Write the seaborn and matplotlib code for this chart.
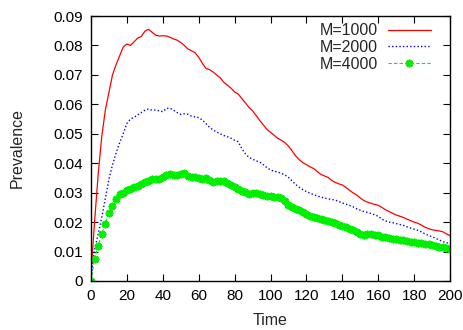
import numpy as np
import pandas as pd
import matplotlib
matplotlib.use("Agg")
import matplotlib.pyplot as plt
import seaborn as sns
from matplotlib.ticker import FuncFormatter

time = list(range(0, 201, 2))

m1000 = [0.002, 0.020, 0.036, 0.049, 0.058, 0.064, 0.070, 0.0735, 0.0765, 0.0795,
         0.0805, 0.0800, 0.0812, 0.0825, 0.0830, 0.0848, 0.0855, 0.0845, 0.0835, 0.0832,
         0.0833, 0.0832, 0.0828, 0.0822, 0.0818, 0.0810, 0.0800, 0.0788, 0.0782, 0.0775,
         0.0760, 0.0740, 0.0722, 0.0718, 0.0710, 0.0700, 0.0690, 0.0675, 0.0665, 0.0655,
         0.0642, 0.0635, 0.0620, 0.0605, 0.0590, 0.0578, 0.0562, 0.0545, 0.0530, 0.0515,
         0.0505, 0.0495, 0.0485, 0.0478, 0.0470, 0.0458, 0.0442, 0.0425, 0.0412, 0.0402,
         0.0395, 0.0388, 0.0382, 0.0372, 0.0362, 0.0357, 0.0352, 0.0342, 0.0335, 0.0330,
         0.0326, 0.0318, 0.0308, 0.0299, 0.0292, 0.0282, 0.0273, 0.0268, 0.0264, 0.0260,
         0.0257, 0.0250, 0.0242, 0.0236, 0.0230, 0.0224, 0.0220, 0.0216, 0.0210, 0.0205,
         0.0200, 0.0196, 0.0190, 0.0183, 0.0178, 0.0174, 0.0172, 0.0170, 0.0167, 0.0160,
         0.0154]

m2000 = [0.001, 0.0105, 0.016, 0.0215, 0.028, 0.0345, 0.0395, 0.0435, 0.047, 0.050,
         0.0535, 0.0550, 0.0556, 0.0564, 0.0572, 0.0580, 0.0584, 0.0580, 0.0581, 0.0578,
         0.0575, 0.0586, 0.0587, 0.0580, 0.0572, 0.0566, 0.0568, 0.0566, 0.0560, 0.0557,
         0.0555, 0.0547, 0.0535, 0.0522, 0.0513, 0.0506, 0.0500, 0.0494, 0.0490, 0.0485,
         0.0478, 0.0473, 0.0450, 0.0432, 0.0420, 0.0414, 0.0408, 0.0404, 0.0395, 0.0385,
         0.0377, 0.0373, 0.0370, 0.0366, 0.0360, 0.0352, 0.0340, 0.0328, 0.0318, 0.0310,
         0.0304, 0.0298, 0.0293, 0.0289, 0.0285, 0.0282, 0.0279, 0.0277, 0.0275, 0.0270,
         0.0265, 0.0261, 0.0257, 0.0252, 0.0245, 0.0240, 0.0236, 0.0233, 0.0229, 0.0225,
         0.0220, 0.0210, 0.0204, 0.0200, 0.0198, 0.0195, 0.0192, 0.0189, 0.0184, 0.0180,
         0.0176, 0.0172, 0.0167, 0.0160, 0.0155, 0.0150, 0.0145, 0.0139, 0.0134, 0.0130,
         0.0127]

m4000 = [0.000, 0.0075, 0.012, 0.016, 0.0195, 0.023, 0.0255, 0.028, 0.0295, 0.030,
         0.0308, 0.0312, 0.0320, 0.0322, 0.0328, 0.0335, 0.0338, 0.0345, 0.0348, 0.0347,
         0.0352, 0.0360, 0.0364, 0.0361, 0.0360, 0.0362, 0.0366, 0.0357, 0.0353, 0.0352,
         0.0350, 0.0348, 0.0349, 0.0342, 0.0337, 0.0339, 0.0341, 0.0338, 0.0332, 0.0325,
         0.0318, 0.0312, 0.0306, 0.0301, 0.0297, 0.0298, 0.0299, 0.0297, 0.0293, 0.0289,
         0.0287, 0.0285, 0.0284, 0.0281, 0.0272, 0.0257, 0.0251, 0.0246, 0.0241, 0.0236,
         0.0228, 0.0222, 0.0216, 0.0213, 0.0210, 0.0206, 0.0203, 0.0200, 0.0196, 0.0191,
         0.0186, 0.0182, 0.0178, 0.0172, 0.0166, 0.0160, 0.0157, 0.0158, 0.0159, 0.0157,
         0.0155, 0.0151, 0.0148, 0.0146, 0.0144, 0.0142, 0.0140, 0.0138, 0.0136, 0.0133,
         0.0131, 0.0130, 0.0128, 0.0126, 0.0125, 0.0123, 0.0120, 0.0117, 0.0114, 0.0111,
         0.0108]

labels = ["M=1000", "M=2000", "M=4000"]
x_ticks = list(range(0, 201, 20))
y_ticks = [0, 0.01, 0.02, 0.03, 0.04, 0.05, 0.06, 0.07, 0.08, 0.09]

sns.set_style("ticks")
plt.rcParams['font.family'] = ['Liberation Sans', 'DejaVu Sans']

fig = plt.figure(figsize=(4.64, 3.30), dpi=100)
ax = fig.add_axes([0.196, 0.1485, 0.774, 0.803])

df1 = pd.DataFrame({"Time": time, "Prevalence": m1000})
df2 = pd.DataFrame({"Time": time, "Prevalence": m2000})
df3 = pd.DataFrame({"Time": time, "Prevalence": m4000})

sns.lineplot(data=df1, x="Time", y="Prevalence", ax=ax, color="#ff0000",
             linewidth=0.9, label=labels[0])
sns.lineplot(data=df2, x="Time", y="Prevalence", ax=ax, color="#0000ff",
             linewidth=1.0, linestyle=(0, (1, 1.6)), label=labels[1])
sns.lineplot(data=df3, x="Time", y="Prevalence", ax=ax, color="#00ee00",
             linewidth=0.8, linestyle=(0, (3, 2)), marker=(8, 2, 0),
             markersize=5.5, markeredgewidth=1.3, markeredgecolor="#00ee00",
             label=labels[2])

ax.set_xlim(0, 200)
ax.set_ylim(0, 0.09)
ax.set_xticks(x_ticks)
ax.set_yticks(y_ticks)
ax.yaxis.set_major_formatter(FuncFormatter(lambda v, p: "%g" % round(v, 2)))
ax.tick_params(direction="in", top=True, right=True, length=5, width=0.8,
               labelsize=11, colors="black", pad=6)
for s in ax.spines.values():
    s.set_visible(True)
    s.set_linewidth(1.0)
    s.set_color("black")

ax.set_xlabel("Time", fontsize=11.5)
ax.set_ylabel("Prevalence", fontsize=11.5)
ax.yaxis.set_label_coords(-0.184, 0.5)
ax.xaxis.set_label_coords(0.5, -0.12)

leg = ax.legend(loc="upper right", bbox_to_anchor=(0.964, 0.996), frameon=False,
                markerfirst=False, fontsize=11.5, handlelength=2.7,
                borderaxespad=0.0, labelspacing=0.1, handletextpad=0.6)
for t in leg.get_texts():
    t.set_ha("right")

fig.savefig("out.png", dpi=100)
